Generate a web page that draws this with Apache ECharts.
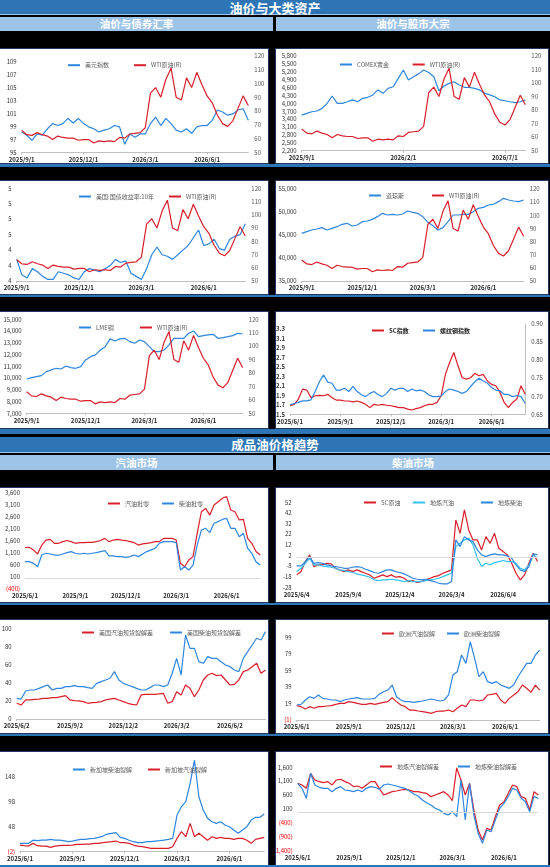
<!DOCTYPE html>
<html>
<head>
<meta charset="utf-8">
<script src="https://cdn.jsdelivr.net/npm/echarts@6/dist/echarts.min.js"></script>
<style>
html, body { margin: 0; padding: 0; background: #000; width: 550px; height: 867px; overflow: hidden; font-family: "Noto Sans CJK SC", sans-serif; }
.bar { position: absolute; color: #fff; font-weight: bold; text-align: center; box-sizing: border-box; }
.title { left: 0; width: 550px; background: #2E75B6; font-size: 13px; border-bottom: 1px solid #9DC3E6; }
.sub { background: #9DC3E6; font-size: 10.5px; }
.panel { position: absolute; background: #fff; outline: 1px solid #1F3864; }
.sep { position: absolute; left: 0; width: 550px; background: #2E75B6; }
</style>
</head>
<body>
<div class="bar title" style="top:0;height:15px;line-height:15px;">油价与大类资产</div>
<div class="bar sub" style="top:17px;left:0;width:273px;height:14px;line-height:14px;">油价与债券汇率</div>
<div class="bar sub" style="top:17px;left:276px;width:274px;height:14px;line-height:14px;">油价与股市大宗</div>

<div class="panel" id="c1" style="left:0;top:49px;width:268px;height:114px;"></div>
<div class="panel" id="c2" style="left:276px;top:49px;width:272px;height:114px;"></div>
<div class="sep" style="top:164px;height:3px;"></div>
<div class="panel" id="c3" style="left:0;top:181px;width:268px;height:113px;"></div>
<div class="panel" id="c4" style="left:276px;top:181px;width:272px;height:113px;"></div>
<div class="sep" style="top:295px;height:2px;"></div>
<div class="panel" id="c5" style="left:0;top:312px;width:268px;height:116px;"></div>
<div class="panel" id="c6" style="left:276px;top:312px;width:272px;height:116px;"></div>
<div class="sep" style="top:429px;height:5px;"></div>

<div class="bar title" style="top:437px;height:16px;line-height:16px;font-size:12.5px;">成品油价格趋势</div>
<div class="bar sub" style="top:455px;left:0;width:273px;height:15px;line-height:15px;">汽油市场</div>
<div class="bar sub" style="top:455px;left:276px;width:274px;height:15px;line-height:15px;">柴油市场</div>

<div class="panel" id="c7" style="left:0;top:488px;width:268px;height:114px;"></div>
<div class="panel" id="c8" style="left:276px;top:488px;width:272px;height:114px;"></div>
<div class="sep" style="top:603px;height:2px;"></div>
<div class="panel" id="c9" style="left:0;top:620px;width:268px;height:113px;"></div>
<div class="panel" id="c10" style="left:276px;top:620px;width:272px;height:113px;"></div>
<div class="sep" style="top:734px;height:2px;"></div>
<div class="panel" id="c11" style="left:0;top:752px;width:268px;height:113px;"></div>
<div class="panel" id="c12" style="left:276px;top:752px;width:272px;height:113px;"></div>
<div class="sep" style="top:865px;height:2px;"></div>

<script>
(function () {
	'use strict';

	var RED = '#D9202A', BLUE = '#2E86DE', CYAN = '#33C3F0';

	// 每月取4个观察日
	function buildDates(startY, startM, months, days) {
		var out = [];
		for (var k = 0; k <= months; k++) {
			var y = startY + Math.floor((startM - 1 + k) / 12);
			var m = (startM - 1 + k) % 12 + 1;
			var list = k === months ? days.slice(0, 1) : days;
			for (var j = 0; j < list.length; j++) {
				out.push(y + '/' + m + '/' + list[j]);
			}
		}
		return out;
	}

	var datesUpper = buildDates(2025, 9, 11, [1, 8, 16, 24]);
	var datesLower = buildDates(2025, 6, 14, [1, 8, 16, 24]);
	var datesLower4 = buildDates(2025, 6, 14, [4, 11, 18, 25]);
	var datesLower2 = buildDates(2025, 6, 14, [2, 9, 16, 23]);

	var ticksA = ['2025/9/1', '2025/12/1', '2026/3/1', '2026/6/1'];
	var ticksB = ['2025/9/1', '2026/2/1', '2026/7/1'];
	var ticksC = ['2025/6/1', '2025/9/1', '2025/12/1', '2026/3/1', '2026/6/1'];
	var ticksD = ['2025/6/4', '2025/9/4', '2025/12/4', '2026/3/4', '2026/6/4'];
	var ticksE = ['2025/6/2', '2025/9/2', '2025/12/2', '2026/3/2', '2026/6/2'];

	// 油价与大类资产
	var wti = [66, 63, 62.5, 64.5, 63, 62, 59.5, 62, 61, 60.5, 60.5, 59, 59.5, 59.5, 57, 58.5, 58, 58.5, 58, 61,
		60.5, 63.5, 64, 64.5, 68, 93, 97, 90, 103, 111, 90, 88, 104, 97, 108, 99, 91, 86, 77, 71, 69, 73, 82, 91, 84];
	var usdIndex = [98.2, 97.7, 96.9, 97.9, 97.7, 98.7, 99.5, 99.2, 99.5, 100.3, 99.6, 100.3, 99.5, 99, 98.7, 98.2, 98.5, 98.7, 99.2, 99,
		96.3, 97.9, 97.4, 97.9, 97.9, 99.5, 100.5, 99.2, 100.3, 99.5, 98.5, 98.2, 98.7, 98, 99, 99.2, 99.2, 100, 101.6, 101.3,
		100.8, 101, 101.6, 101.8, 100];
	var comexGold = [3550, 3620, 3680, 3710, 3810, 4000, 4280, 4000, 4000, 4060, 4130, 4060, 4190, 4230, 4320, 4510, 4380, 4570, 4630, 4950,
		5270, 4890, 5010, 5120, 5270, 5170, 5010, 4480, 4660, 4760, 4820, 4700, 4610, 4610, 4570, 4510, 4380, 4320, 4250, 4130,
		4100, 4060, 4030, 4060, 4130];
	var ust10y = [4.34, 4.24, 4.22, 4.28, 4.26, 4.23, 4.21, 4.21, 4.26, 4.25, 4.24, 4.22, 4.21, 4.26, 4.28, 4.27, 4.26, 4.28, 4.30, 4.34,
		4.32, 4.33, 4.25, 4.23, 4.21, 4.28, 4.37, 4.42, 4.37, 4.36, 4.34, 4.37, 4.40, 4.43, 4.48, 4.53, 4.43, 4.44, 4.47, 4.41,
		4.40, 4.47, 4.49, 4.50, 4.57];
	var dowJones = [45360, 45720, 46090, 46300, 46600, 46090, 46450, 46810, 47320, 47540, 46960, 47170, 47900, 48040, 48400, 48990, 49710, 49350, 49490, 49350,
		49570, 50220, 49930, 49710, 48990, 47760, 47030, 46090, 46600, 47900, 49350, 49350, 49490, 49490, 50070, 50800, 51010, 51520, 51670, 52250,
		52970, 52610, 52390, 52250, 52610];
	var lmeCopper = [9920, 10035, 10120, 10205, 10545, 10690, 10830, 10770, 11030, 10890, 10830, 10970, 11540, 11820, 11970, 12390, 12670, 13330, 13150, 13330,
		13380, 13100, 12960, 13240, 13100, 12670, 12250, 12250, 12390, 12820, 13380, 13380, 13380, 13810, 14010, 13520, 13610, 13670, 13720, 13380,
		13440, 13520, 13610, 13810, 13750];
	var scIndex = [1.68, 1.71, 1.82, 2.03, 2.01, 1.85, 1.89, 1.90, 1.89, 1.92, 1.85, 1.80, 1.80, 1.78, 1.78, 1.76, 1.78, 1.75, 1.71, 1.64,
		1.71, 1.69, 1.71, 1.69, 1.68, 1.66, 1.64, 1.64, 1.61, 1.59, 1.62, 1.64, 1.68, 1.71, 1.71, 1.75, 1.89, 2.34, 2.59, 2.80,
		2.52, 2.27, 2.24, 2.27, 2.36, 2.31, 2.34, 2.20, 2.13, 2.10, 1.96, 1.75, 1.64, 1.75, 1.82, 2.10, 1.92];
	var rebarIndex = [0.676, 0.680, 0.683, 0.687, 0.687, 0.690, 0.713, 0.740, 0.759, 0.739, 0.736, 0.717, 0.717, 0.722, 0.713, 0.727, 0.713, 0.704, 0.699, 0.708,
		0.713, 0.704, 0.699, 0.708, 0.722, 0.717, 0.722, 0.722, 0.713, 0.720, 0.715, 0.717, 0.713, 0.704, 0.699, 0.699, 0.701, 0.713, 0.720, 0.717,
		0.713, 0.708, 0.713, 0.727, 0.740, 0.750, 0.742, 0.736, 0.724, 0.717, 0.715, 0.705, 0.705, 0.699, 0.702, 0.699, 0.680];

	// 成品油价格趋势
	var gasSpread = [1300, 1310, 1200, 1030, 1400, 1610, 1640, 1475, 1475, 1545, 1590, 1545, 1475, 1500, 1500, 1515, 1515, 1545, 1590, 1680,
		1545, 1610, 1640, 1610, 1590, 1545, 1500, 1400, 1450, 1475, 1500, 1545, 1545, 1680, 1680, 1680, 1610, 640, 500, 780,
		920, 1890, 2790, 2930, 2650, 3070, 3210, 3350, 3420, 2860, 2790, 2450, 2470, 1680, 1475, 1130, 990];
	var dieselSpread = [710, 710, 640, 500, 990, 1060, 1030, 990, 975, 1030, 1085, 1130, 1060, 1030, 1060, 1030, 1060, 1085, 1130, 1170,
		950, 950, 920, 920, 890, 920, 990, 920, 1030, 1130, 1200, 1270, 1475, 1545, 1545, 1545, 1500, 360, 500, 360,
		570, 1400, 2030, 2100, 1920, 2310, 2380, 2470, 2520, 2100, 2100, 1750, 1890, 1270, 1060, 710, 570];
	var scCrude = [-16.3, -13.2, -3.8, 2.5, -8.5, -6.9, -6.9, -5.4, -6, -10.1, -11.6, -13.2, -11.6, -13.2, -11.6, -13.2, -14.8, -16.3, -19.5, -17.9,
		-16.3, -17.9, -16.3, -18.5, -17.9, -19.5, -22.6, -21.7, -23.5, -22.6, -21, -19.5, -17.9, -17, -14.8, -13.2, -11.6, 35.4, 22.8, 44.8,
		26, 16.6, 16.6, 7.2, 19.7, 13.4, 22.8, 8.7, 5.6, 2.5, -5.4, -14.8, -21, -16.3, -5.4, 4, -3.8];
	var localGasoline = [-13.2, -10.1, -5.4, -0.7, -6.9, -6.9, -7.9, -8.5, -9.1, -10.1, -11.6, -12.3, -13.2, -14.1, -15.4, -16.3, -17.3, -18.5, -21, -21.7,
		-21, -21, -20.4, -21, -21.7, -22.6, -21.7, -22.6, -22.6, -22.6, -21.7, -21, -20.4, -19.5, -17.9, -16.3, -14.8, 10.3, 13.4, 16.6,
		18.1, 11.9, -0.7, -8.5, -5.4, -6.9, -4.7, -3.8, -2.8, -3.8, -3.8, -5.4, -10.1, -11.6, -6.9, 2.5, -0.7];
	var localDiesel = [-7.9, -7.9, -3.8, 0.9, -5.4, -4.7, -5.4, -6.9, -7.9, -8.5, -9.1, -10.1, -10.1, -9.1, -8.5, -9.1, -11, -12.3, -14.1, -14.8,
		-13.2, -11.6, -11.6, -13.2, -14.1, -15.4, -17.3, -19.5, -20.4, -21, -20.4, -21.7, -22.6, -24.2, -24.8, -24.8, -22.6, 16.6, 10.3, 19.7,
		16.6, 15, 7.2, 2.5, 0.9, 2.5, 3.4, 2.5, 2.5, 1.5, -0.7, -6.9, -11.6, -13.2, -8.5, 3.4, 2.5];
	var usGasCrack = [17.3, 15.4, 21, 21, 21.7, 22, 22.8, 22.8, 23.5, 23.5, 24.6, 25.7, 21, 20.2, 19.9, 19.1, 17.3, 18, 18.4, 19.1,
		21, 22, 22.8, 21, 19.1, 17.3, 16.2, 15.4, 26.5, 27.2, 27.2, 27.2, 27.6, 28.3, 17.3, 19.1, 30.1, 26.5, 37.5, 33.8,
		24.6, 32, 43, 48.5, 50.4, 47.8, 48.5, 43, 37.5, 38.2, 43, 52.2, 54, 57.7, 61.4, 50.4, 54];
	var usDieselCrack = [22.8, 22, 30.9, 32, 32, 33.8, 35.7, 37.5, 32, 33.8, 33.8, 35.7, 35.7, 36.8, 35.7, 35.7, 34.6, 33.8, 39.3, 41.2,
		43, 44.9, 52.2, 43, 39.3, 37.5, 35.7, 33.8, 32, 32, 34.6, 37.5, 37.5, 35.7, 37.5, 50.4, 66.9, 48.5, 92.6, 77.9,
		77.9, 63.2, 61.4, 68.8, 66.9, 66.9, 63.2, 59.6, 57.7, 54, 52.2, 66.9, 74.3, 81.6, 89, 87.1, 96.3];
	var euGasCrack = [16.4, 15.2, 12.4, 15.2, 13.2, 15.2, 15.2, 16, 16.4, 18, 19.2, 19.2, 21.3, 20.5, 19.2, 18, 18, 19.2, 18, 19.2,
		20.5, 21.3, 26.1, 21.3, 17.2, 15.2, 11.1, 11.1, 9.9, 9.1, 8.3, 7.1, 9.1, 9.9, 9.9, 11.1, 9.1, 13.2, 17.2, 15.2,
		23.3, 23.3, 22.1, 23.3, 29.4, 30.2, 31.4, 23.3, 19.2, 25.3, 29.4, 33.4, 41.5, 37.5, 32.6, 41.5, 35.4];
	var euDieselCrack = [17.2, 18, 23.3, 27.3, 25.3, 29.4, 25.3, 24.5, 23.3, 23.3, 21.3, 23.3, 24.5, 25.3, 26.1, 24.5, 24.5, 24.5, 25.3, 30.2,
		33.4, 35.4, 41.5, 27.3, 23.3, 21.3, 21.3, 20.5, 21.3, 22.1, 23.3, 24.5, 23.3, 22.1, 23.3, 29.4, 53.7, 57.7, 78, 67.8,
		94.1, 73.9, 51.6, 57.7, 45.6, 43.5, 45.6, 41.5, 39.5, 37.5, 41.5, 51.6, 59.7, 67.8, 67.8, 78, 84];
	var sgDieselCrack = [14.7, 14.7, 14.7, 21, 20, 21, 21, 22.7, 21, 21, 20, 18, 19.3, 21, 22.7, 22.7, 24, 24.7, 26.7, 29.3,
		33.3, 34.7, 36, 26.7, 24.7, 21, 18, 16, 16, 18, 18, 19.3, 20, 21, 22.7, 24.7, 71.3, 88, 98, 134.7,
		181, 108, 81.3, 64.7, 58, 54.7, 58, 51.3, 48, 41.3, 34.7, 41.3, 48, 61.3, 66.7, 66.7, 73.3];
	var sgGasCrack = [11.3, 10, 9.3, 14.7, 10, 9.3, 9.3, 6.7, 9.3, 10, 10.7, 10.7, 11.3, 12.7, 12.7, 13.3, 13.3, 14.7, 14.7, 16,
		17.3, 18, 19.3, 16, 16, 14.7, 11.3, 9.3, 8, 6.7, 4.7, 4.7, 4.7, 4.7, 4.7, 8, 24.7, 38, 28, 54.7,
		28, 34.7, 28, 21, 28, 24.7, 26.7, 24.7, 24.7, 22.7, 24.7, 24.7, 21, 14.7, 22.7, 24.7, 26.7];
	var localGasCrack = [1020, 964, 844, 1384, 1144, 1084, 1048, 1084, 964, 1144, 1168, 1084, 1024, 904, 928, 844, 964, 1084, 1084, 844,
		604, 664, 724, 748, 784, 808, 784, 724, 724, 688, 664, 544, 604, 664, 724, 604, 400, 1580, 1144, 604,
		1024, 64, -656, -1016, -596, -656, -176, 244, 364, 664, 964, 904, 544, 484, 64, 724, 604];
	var localDieselCrack = [1024, 844, 484, 1384, 964, 880, 844, 844, 724, 844, 904, 784, 760, 724, 784, 724, 844, 904, 880, 808,
		964, 1000, 964, 928, 880, 844, 748, 640, 568, 424, 328, 244, 124, 64, -56, -116, 4, -176, 1144, -296,
		1024, -116, -776, -1136, -656, -716, -296, 124, 304, 544, 844, 784, 484, 364, 4, 544, 484];

	var fmtComma = function (v) {
		var s = Math.abs(Math.round(v)).toString().replace(/\B(?=(\d{3})+(?!\d))/g, ',');
		return v < 0 ? '(' + s + ')' : s;
	};
	var negRed = function (v) {
		return Number(v) < 0 ? '#FF0000' : '#333';
	};

	var lineChart = function (id, cfg) {
		var chart = echarts.init(document.getElementById(id));
		var filt = function (idx, val) {
			return cfg.ticks.indexOf(val) >= 0;
		};
		var yAxes = cfg.y.map(function (a, k) {
			return {
				type: 'value', position: k ? 'right' : 'left',
				min: a.min, max: a.max, interval: a.step,
				splitLine: { show: false },
				axisLine: { show: !!a.line, lineStyle: { color: '#bfbfbf' } },
				axisTick: { show: false },
				axisLabel: {
					fontSize: 6, margin: k ? 6 : 5,
					color: a.color || (k ? '#555' : '#333'),
					fontWeight: a.bold ? 'bold' : 'normal',
					formatter: a.fmt, showMaxLabel: a.showMax !== false
				}
			};
		});
		var series = cfg.series.map(function (s, k) {
			var item = {
				name: s.name, type: 'line', yAxisIndex: s.axis || 0, data: s.data,
				symbol: 'none', lineStyle: { width: 1.2, color: s.color }, itemStyle: { color: s.color }
			};
			if (k === 0 && cfg.zeroLine) {
				item.markLine = {
					silent: true, symbol: 'none', label: { show: false },
					lineStyle: { color: '#d9d9d9', type: 'solid', width: 1 },
					data: [{ yAxis: 0 }]
				};
			}
			return item;
		});
		var legends = cfg.series.map(function (s) {
			return {
				data: [s.name], left: s.lx, top: s.ly - 4.5, icon: 'rect',
				itemWidth: 12, itemHeight: 2, selectedMode: false,
				textStyle: { fontSize: 6, color: cfg.legendColor || '#595959', fontWeight: cfg.legendBold ? 'bold' : 'normal' }
			};
		});
		chart.setOption({
			animation: false,
			textStyle: { fontFamily: '"Noto Sans CJK SC", sans-serif' },
			grid: { left: cfg.grid[0], right: cfg.grid[1], top: cfg.grid[2], bottom: cfg.grid[3], containLabel: false, outerBoundsMode: 'none' },
			legend: legends,
			xAxis: {
				type: 'category', data: cfg.dates, boundaryGap: false,
				axisLine: { show: !cfg.zeroLine, onZero: false, lineStyle: { color: '#bfbfbf' } },
				axisTick: { show: !cfg.zeroLine, interval: filt, length: 2, lineStyle: { color: '#bfbfbf' } },
				axisLabel: { interval: filt, fontSize: 6, fontWeight: 'bold', color: '#262626', margin: 4 }
			},
			yAxis: yAxes,
			series: series
		});
		return chart;
	};

	var wtiAxis = { min: 50, max: 120, step: 10 };

	lineChart('c1', {
		dates: datesUpper, ticks: ticksA, grid: [21.7, 19.7, 6.7, 10.3],
		y: [{ min: 95, max: 110, step: 2, showMax: false }, wtiAxis],
		series: [
			{ name: '美元指数', data: usdIndex, color: BLUE, lx: 63, ly: 12.7 },
			{ name: 'WTI原油(R)', data: wti, color: RED, axis: 1, lx: 129, ly: 12.7 }
		]
	});
	lineChart('c2', {
		dates: datesUpper, ticks: ticksB, grid: [25.7, 22.7, 7, 12.3],
		y: [{ min: 2200, max: 5800, step: 300, fmt: fmtComma }, wtiAxis],
		series: [
			{ name: 'COMEX黄金', data: comexGold, color: BLUE, lx: 59, ly: 12 },
			{ name: 'WTI原油(R)', data: wti, color: RED, axis: 1, lx: 131.7, ly: 12 }
		]
	});
	lineChart('c3', {
		dates: datesUpper, ticks: ticksA, grid: [16.7, 22.7, 7.3, 13],
		y: [{ min: 4.2, max: 4.8, step: 0.1, fmt: function (v) { return String(Math.round(v + 1e-9)); } }, wtiAxis],
		series: [
			{ name: '美国:国债收益率:10年', data: ust10y, color: BLUE, lx: 74, ly: 12 },
			{ name: 'WTI原油(R)', data: wti, color: RED, axis: 1, lx: 164, ly: 12 }
		]
	});
	lineChart('c4', {
		dates: datesUpper, ticks: ticksA, grid: [25.7, 24.3, 8, 13],
		y: [{ min: 35000, max: 55000, step: 5000, fmt: fmtComma }, wtiAxis],
		series: [
			{ name: '道琼斯', data: dowJones, color: BLUE, lx: 88, ly: 11 },
			{ name: 'WTI原油(R)', data: wti, color: RED, axis: 1, lx: 151, ly: 11 }
		]
	});
	lineChart('c5', {
		dates: datesUpper, ticks: ticksA, grid: [26.7, 25.4, 7.3, 14.7],
		y: [{ min: 7000, max: 15000, step: 1000, fmt: fmtComma }, wtiAxis],
		series: [
			{ name: 'LME铜', data: lmeCopper, color: BLUE, lx: 74, ly: 12 },
			{ name: 'WTI原油(R)', data: wti, color: RED, axis: 1, lx: 135, ly: 12 }
		]
	});
	lineChart('c6', {
		dates: datesLower, ticks: ticksC, grid: [14, 22.8, 12, 13.7],
		legendColor: '#222', legendBold: true,
		y: [
			{ min: 1.5, max: 3.4, step: 0.2, showMax: false, bold: true, fmt: function (v) { return v.toFixed(1); } },
			{ min: 0.65, max: 0.9, step: 0.05, line: true, color: '#444', fmt: function (v) { return v.toFixed(2); } }
		],
		series: [
			{ name: 'SC指数', data: scIndex, color: RED, lx: 91, ly: 15 },
			{ name: '螺纹钢指数', data: rebarIndex, color: BLUE, axis: 1, lx: 142, ly: 15 }
		]
	});
	lineChart('c7', {
		dates: datesLower, ticks: ticksC, grid: [25, 7.8, 4.3, 13.7], zeroLine: true,
		y: [{ min: -400, max: 3600, step: 500, fmt: fmtComma, color: negRed }],
		series: [
			{ name: '汽油批零', data: gasSpread, color: RED, lx: 103, ly: 12 },
			{ name: '柴油批零', data: dieselSpread, color: BLUE, lx: 157, ly: 12 }
		]
	});
	lineChart('c8', {
		dates: datesLower4, ticks: ticksD, grid: [20.7, 10.5, 14.3, 14.7], zeroLine: true,
		y: [{ min: -28, max: 52, step: 10 }],
		series: [
			{ name: 'SC原油', data: scCrude, color: RED, lx: 83, ly: 11 },
			{ name: '地炼汽油', data: localGasoline, color: CYAN, lx: 132, ly: 11 },
			{ name: '地炼柴油', data: localDiesel, color: BLUE, lx: 200, ly: 11 }
		]
	});
	lineChart('c9', {
		dates: datesLower2, ticks: ticksE, grid: [16.7, 2.5, 8.3, 14],
		y: [{ min: 0, max: 100, step: 20 }],
		series: [
			{ name: '美国汽油现货裂解差', data: usGasCrack, color: RED, lx: 77, ly: 9 },
			{ name: '美国柴油现货裂解差', data: usDieselCrack, color: BLUE, lx: 165, ly: 9 }
		]
	});
	lineChart('c10', {
		dates: datesLower, ticks: ticksC, grid: [20.7, 8.3, 17.7, 13],
		y: [{ min: -1, max: 99, step: 20, fmt: fmtComma, color: negRed }],
		series: [
			{ name: '欧洲汽油裂解', data: euGasCrack, color: RED, lx: 101, ly: 10 },
			{ name: '欧洲柴油裂解', data: euDieselCrack, color: BLUE, lx: 166, ly: 10 }
		]
	});
	lineChart('c11', {
		dates: datesLower, ticks: ticksC, grid: [20, 3.7, 3.7, 13.3],
		y: [{ min: -2, max: 190, step: 50, showMax: false, fmt: fmtComma, color: negRed }],
		series: [
			{ name: '新加坡柴油裂解', data: sgDieselCrack, color: BLUE, lx: 68, ly: 14 },
			{ name: '新加坡汽油裂解', data: sgGasCrack, color: RED, lx: 143, ly: 14 }
		]
	});
	lineChart('c12', {
		dates: datesLower, ticks: ticksC, grid: [21.7, 9.7, 15.3, 14.3], zeroLine: true,
		y: [{ min: -1400, max: 1600, step: 500, fmt: fmtComma, color: negRed }],
		series: [
			{ name: '地炼汽油裂解差', data: localGasCrack, color: RED, lx: 99, ly: 11 },
			{ name: '地炼柴油裂解差', data: localDieselCrack, color: BLUE, lx: 177, ly: 11 }
		]
	});
}());
</script>
</body>
</html>
